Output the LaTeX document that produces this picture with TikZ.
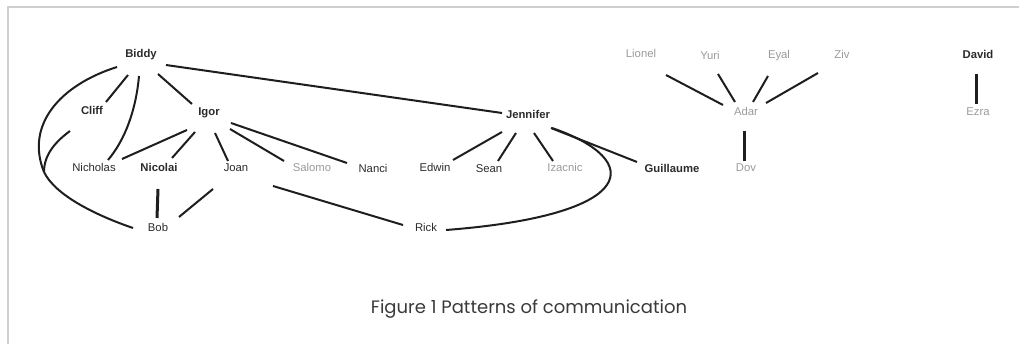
\documentclass[tikz,border=0pt]{standalone}
\usepackage{fontspec}
\setmainfont{Liberation Sans}
\newfontfamily\capfont{Poppins}
\usetikzlibrary{calc}
\definecolor{ink}{HTML}{2B2B2B}
\definecolor{dim}{HTML}{9A9A9A}
\definecolor{edge}{HTML}{1E1E1E}
\definecolor{framegrey}{HTML}{CFCFCF}
\definecolor{captext}{HTML}{3A3A3A}

\begin{document}
\begin{tikzpicture}[x=1pt,y=-1pt,
  person/.style={inner sep=0pt, anchor=base, text=ink, font=\fontsize{11.3}{13}\selectfont},
  lead/.style={person, font=\fontsize{11.3}{13}\selectfont\bfseries},
  quiet/.style={person, text=dim},
  tie/.style={draw=edge, line width=2pt},
  bond/.style={draw=edge, line width=3pt},
]
\useasboundingbox (0,0) rectangle (1019,344);

% page frame (top and left rules)
\draw[framegrey, line width=2pt] (7.5,344) -- (7.5,7.5) -- (1019,7.5);

% people
\node[lead]  (Biddy)     at (141,58)  {Biddy};
\node[lead]  (Cliff)     at (92,115)  {Cliff};
\node[lead]  (Igor)      at (209,116) {Igor};
\node[person](Nicholas)  at (94,172)  {Nicholas};
\node[lead]  (Nicolai)   at (159,172) {Nicolai};
\node[person](Joan)      at (236,172) {Joan};
\node[quiet] (Salomo)    at (312,172) {Salomo};
\node[person](Nanci)     at (373,173) {Nanci};
\node[person](Bob)       at (158,232) {Bob};
\node[lead]  (Jennifer)  at (528,119) {Jennifer};
\node[person](Edwin)     at (435,172) {Edwin};
\node[person](Sean)      at (489,173) {Sean};
\node[quiet] (Izacnic)   at (565,172) {Izacnic};
\node[lead]  (Guillaume) at (672,173) {Guillaume};
\node[person](Rick)      at (426,232) {Rick};
\node[quiet] (Lionel)    at (641,58)  {Lionel};
\node[quiet] (Yuri)      at (710,60)  {Yuri};
\node[quiet] (Eyal)      at (779,59)  {Eyal};
\node[quiet] (Ziv)       at (842,59)  {Ziv};
\node[quiet] (Adar)      at (746,116) {Adar};
\node[quiet] (Dov)       at (746,172) {Dov};
\node[lead]  (David)     at (978,59)  {David};
\node[quiet] (Ezra)      at (978,116) {Ezra};

\coordinate (join) at (44,172);

% Biddy's ties
\draw[tie] ([shift={(-13,17)}]Biddy.base) -- ([shift={(14,-13)}]Cliff.base);
\draw[tie] ([shift={(-2,18)}]Biddy.base) .. controls (136,110) and (125,140) .. ([shift={(14,-12)}]Nicholas.base);
\draw[tie] ([shift={(17,16)}]Biddy.base) -- ([shift={(-17,-12)}]Igor.base);
\draw[tie] ([shift={(25,7)}]Biddy.base) -- ([shift={(-26,-6)}]Jennifer.base);
\draw[tie] ([shift={(-24,9)}]Biddy.base) .. controls (60,85) and (25,125) .. (join);
\draw[tie] ([shift={(-22,16)}]Cliff.base) .. controls (55,142) and (44,155) .. (join);
\draw[tie] (join) .. controls (55,195) and (95,215) .. ([shift={(-25,-4)}]Bob.base);

% Igor's ties
\draw[tie] ([shift={(-22,14)}]Igor.base) -- ([shift={(28,-13)}]Nicholas.base);
\draw[tie] ([shift={(-14,16)}]Igor.base) -- ([shift={(13,-14)}]Nicolai.base);
\draw[tie] ([shift={(6,17)}]Igor.base) -- ([shift={(-8,-11)}]Joan.base);
\draw[tie] ([shift={(21,13)}]Igor.base) -- ([shift={(-28,-11)}]Salomo.base);
\draw[tie] ([shift={(22,7)}]Igor.base) -- ([shift={(-26,-10)}]Nanci.base);

% Bob and Rick
\draw[bond] ([shift={(-1,17)}]Nicolai.base) -- ([shift={(-1,-14)}]Bob.base);
\draw[tie] ([shift={(-23,17)}]Joan.base) -- ([shift={(21,-15)}]Bob.base);
\draw[tie] ([shift={(37,14)}]Joan.base) -- ([shift={(-23,-7)}]Rick.base);

% Jennifer's ties
\draw[tie] ([shift={(-26,13)}]Jennifer.base) -- ([shift={(18,-12)}]Edwin.base);
\draw[tie] ([shift={(-12,14)}]Jennifer.base) -- ([shift={(9,-12)}]Sean.base);
\draw[tie] ([shift={(6,14)}]Jennifer.base) -- ([shift={(-12,-11)}]Izacnic.base);
\draw[tie] ([shift={(23,9)}]Jennifer.base) -- ([shift={(-35,-11)}]Guillaume.base);
\draw[tie] ([shift={(24,9)}]Jennifer.base) .. controls (645,160) and (640,215) .. ([shift={(20,-2)}]Rick.base);

% Adar's group
\draw[tie] ([shift={(25,17)}]Lionel.base) -- ([shift={(-23,-11)}]Adar.base);
\draw[tie] ([shift={(8,14)}]Yuri.base) -- ([shift={(-11,-14)}]Adar.base);
\draw[tie] ([shift={(-11,17)}]Eyal.base) -- ([shift={(7,-14)}]Adar.base);
\draw[tie] ([shift={(-24,14)}]Ziv.base) -- ([shift={(20,-13)}]Adar.base);
\draw[bond] ([shift={(-2,15)}]Adar.base) -- ([shift={(-2,-11)}]Dov.base);

% David and Ezra
\draw[bond] ([shift={(-2,15)}]David.base) -- ([shift={(-2,-12)}]Ezra.base);

% caption
\node[anchor=base, inner sep=0pt, text=captext, font=\capfont\fontsize{18}{20}\selectfont] (caption) at (529,313) {Figure 1 Patterns of communication};
\end{tikzpicture}
\end{document}
